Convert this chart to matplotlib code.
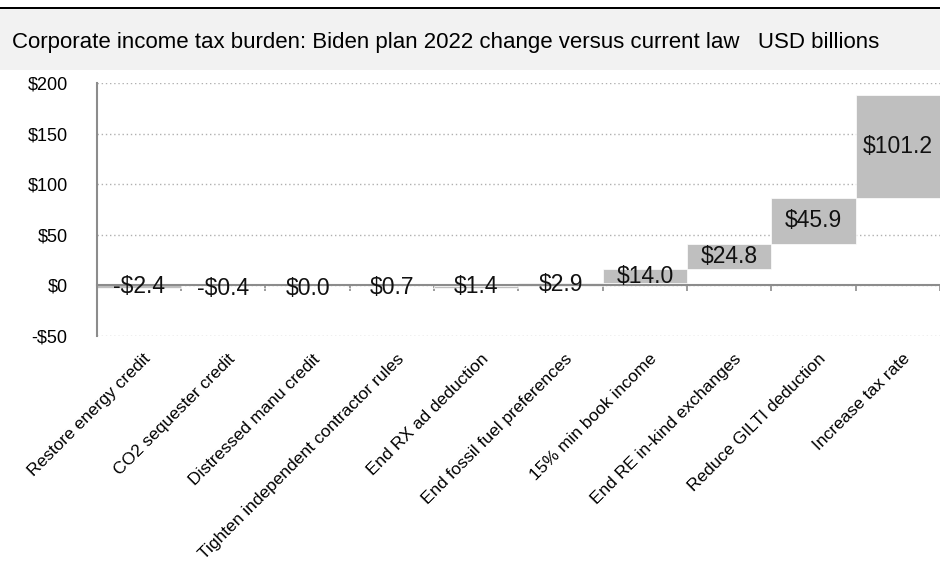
import matplotlib

matplotlib.use("Agg")
import matplotlib.pyplot as plt
from matplotlib.patches import Rectangle
from matplotlib.transforms import blended_transform_factory

categories = [
    "Restore energy credit",
    "CO2 sequester credit",
    "Distressed manu credit",
    "Tighten independent contractor rules",
    "End RX ad deduction",
    "End fossil fuel preferences",
    "15% min book income",
    "End RE in-kind exchanges",
    "Reduce GILTI deduction",
    "Increase tax rate",
]
changes = [-2.4, -0.4, 0.0, 0.7, 1.4, 2.9, 14.0, 24.8, 45.9, 101.2]
y_ticks = [-50, 0, 50, 100, 150, 200]
y_tick_labels = ["-$50", "$0", "$50", "$100", "$150", "$200"]

# waterfall: each bar starts where the previous one ended
starts = []
total = 0.0
for c in changes:
    starts.append(total)
    total += c

fig = plt.figure(figsize=(9.4, 5.62), dpi=100)
fig.patches.append(Rectangle((0, 0.876), 1, 0.108, transform=fig.transFigure,
                             facecolor="#f2f2f2", edgecolor="none", zorder=0))
fig.patches.append(Rectangle((0, 0.984), 1, 0.004, transform=fig.transFigure,
                             facecolor="black", edgecolor="none", zorder=1))
fig.text(0.013, 0.925, "Corporate income tax burden: Biden plan 2022 change versus current law   USD billions",
         fontsize=16, family="Liberation Sans", va="center", ha="left")

ax = fig.add_axes([0.103, 0.402, 0.897, 0.450])
x = list(range(len(categories)))
ax.bar(x, changes, bottom=starts, width=1.0, color="#bfbfbf", edgecolor="white",
       linewidth=0.5, zorder=2)

for xi, s, c in zip(x, starts, changes):
    ax.text(xi, s + c / 2, f"-${abs(c):.1f}" if c < 0 else f"${c:.1f}",
            ha="center", va="center", fontsize=16.5, family="Liberation Sans", color="#111111", zorder=4)

ax.set_xlim(-0.5, len(categories) - 0.5)
ax.set_ylim(-50, 200)
ax.set_yticks(y_ticks)
ax.set_yticklabels(y_tick_labels, fontsize=13, family="Liberation Sans")
ax.tick_params(axis="y", length=0, pad=21)
ax.grid(axis="y", linestyle=(0, (1, 2)), color="#b0b0b0", linewidth=1, zorder=0)

for side in ["top", "right"]:
    ax.spines[side].set_visible(False)
ax.spines["left"].set_color("#8c8c8c")
ax.spines["left"].set_linewidth(1.5)
ax.spines["bottom"].set_position(("data", 0))
ax.spines["bottom"].set_color("#8c8c8c")
ax.spines["bottom"].set_linewidth(1.5)
ax.spines["bottom"].set_zorder(3)
ax.set_xticks([i + 0.5 for i in x])
ax.set_xticklabels([])
ax.tick_params(axis="x", length=4, width=1.2, color="#8c8c8c", direction="out")

trans = blended_transform_factory(ax.transData, ax.transAxes)
for xi, name in zip(x, categories):
    ax.text(xi + 0.05, -0.06, name, transform=trans, rotation=45, rotation_mode="anchor",
            ha="right", va="top", fontsize=12.5, family="Liberation Sans")

fig.savefig("out.png", dpi=100)
